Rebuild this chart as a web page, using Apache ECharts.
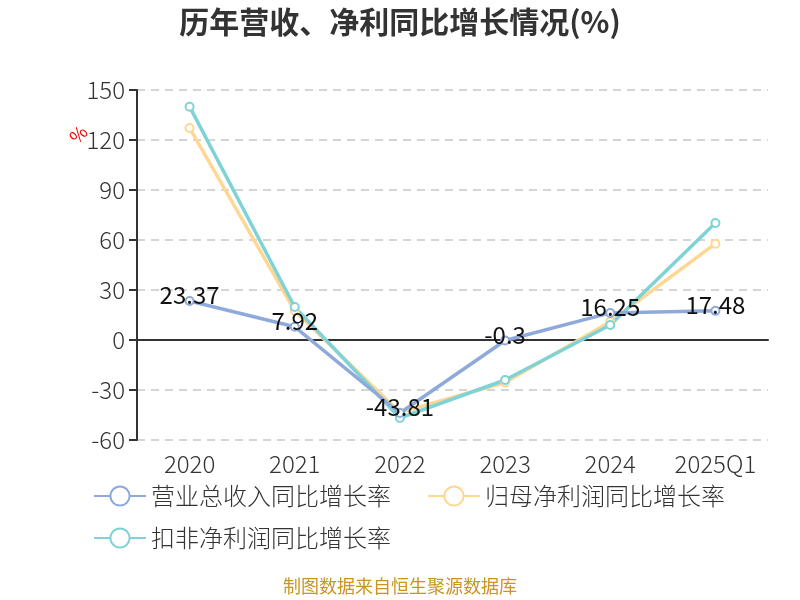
<!DOCTYPE html>
<html>
<head>
<meta charset="utf-8">
<script src="https://cdn.jsdelivr.net/npm/echarts@6/dist/echarts.min.js"></script>
<style>
  html, body { margin: 0; padding: 0; background: #fff; }
  #chart { width: 800px; height: 600px; }
</style>
</head>
<body>
<div id="chart"></div>
<script>
const categories = ["2020", "2021", "2022", "2023", "2024", "2025Q1"];
const revenueGrowth = [23.37, 7.92, -43.81, -0.3, 16.25, 17.48];
const netProfitGrowth = [127.2, 17.5, -43.5, -25.5, 11, 57.8];
const deductedProfitGrowth = [140, 19.8, -46.8, -24, 9, 70.2];
const seriesNames = ["营业总收入同比增长率", "归母净利润同比增长率", "扣非净利润同比增长率"];

const chart = echarts.init(document.getElementById("chart"));
const font = "'Noto Sans CJK SC', 'Noto Sans', sans-serif";
const legendText = { fontSize: 24, color: "#333", fontFamily: font, fontWeight: 300 };

chart.setOption({
  textStyle: { fontFamily: font },
  color: ["#8eaadb", "#ffd792", "#7fd3d6"],
  title: {
    text: "历年营收、净利同比增长情况(%)",
    left: "center",
    top: 2,
    textStyle: { fontSize: 30, fontWeight: "bold", color: "#333", fontFamily: font }
  },
  legend: [
    {
      left: 88,
      top: 479,
      itemWidth: 52,
      itemHeight: 24,
      itemGap: 36,
      textStyle: legendText,
      data: seriesNames.slice(0, 2)
    },
    {
      left: 88,
      top: 521,
      itemWidth: 52,
      itemHeight: 24,
      textStyle: legendText,
      data: seriesNames.slice(2)
    }
  ],
  grid: { left: 137, right: 32, top: 90, bottom: 160 },
  xAxis: {
    type: "category",
    data: categories,
    axisLine: { onZero: true, lineStyle: { color: "#333", width: 2 } },
    axisTick: { length: 8, lineStyle: { color: "#333", width: 2 } },
    axisLabel: { interval: 0, fontSize: 24, color: "#333", margin: 12, fontFamily: font, fontWeight: 300 }
  },
  yAxis: {
    type: "value",
    min: -60,
    max: 150,
    interval: 30,
    axisLine: { show: true, lineStyle: { color: "#333", width: 2 } },
    axisTick: { show: true, length: 8, lineStyle: { color: "#333", width: 2 } },
    axisLabel: { fontSize: 24, color: "#333", margin: 12, fontFamily: font, fontWeight: 300 },
    splitLine: { lineStyle: { color: "#c8c8c8", type: [8, 6], width: 1.5 } }
  },
  graphic: [
    {
      type: "text",
      left: 66,
      top: 122,
      rotation: Math.PI / 4,
      style: { text: "%", fill: "#e00", font: "18px " + font }
    },
    {
      type: "text",
      left: "center",
      top: 577,
      style: { text: "制图数据来自恒生聚源数据库", fill: "#c8961e", font: "18px " + font }
    }
  ],
  series: [
    {
      name: seriesNames[0],
      type: "line",
      data: revenueGrowth,
      symbol: "emptyCircle",
      symbolSize: 8,
      lineStyle: { width: 3.5 },
      z: 3,
      label: {
        show: true,
        position: "top",
        distance: -11,
        fontSize: 24,
        color: "#111",
        fontFamily: font
      }
    },
    {
      name: seriesNames[1],
      type: "line",
      data: netProfitGrowth,
      symbol: "emptyCircle",
      symbolSize: 8,
      lineStyle: { width: 3.5 },
      z: 2
    },
    {
      name: seriesNames[2],
      type: "line",
      data: deductedProfitGrowth,
      symbol: "emptyCircle",
      symbolSize: 8,
      lineStyle: { width: 3.5 },
      z: 2
    }
  ]
});
</script>
</body>
</html>
